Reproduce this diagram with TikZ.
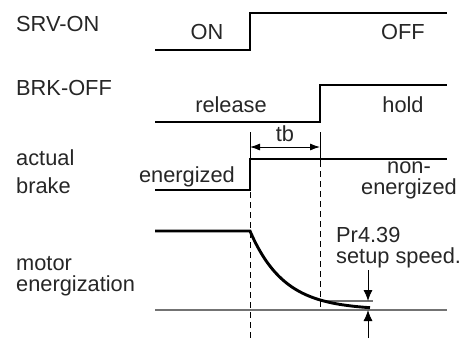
\documentclass[tikz,border=0pt]{standalone}
\usepackage{fontspec}
\setmainfont{Liberation Sans}
\usetikzlibrary{arrows.meta}
\begin{document}
\begin{tikzpicture}[x=1pt,y=-1pt,
  font=\fontsize{21.8}{25}\selectfont,
  txt/.style={inner sep=0pt, text=black!85},
  lbl/.style={txt, anchor=base west},
  ctr/.style={txt, anchor=base},
  sig/.style={line width=2.9pt, line join=miter},
  tick/.style={line width=0.9pt},
  guide/.style={line width=0.9pt, dash pattern=on 6pt off 4pt},
  ref/.style={line width=1.4pt, black!55},
  tip/.style={-{Latex[length=11pt,width=9pt]}, line width=0.9pt}]
\useasboundingbox (0,0) rectangle (466,338);

% labels on the left (anchor = baseline of the last line)
\node[lbl] (srv) at (16,31) {SRV-ON};
\node[lbl] (brk) at (16,95) {BRK-OFF};
\node[lbl, align=left, font=\fontsize{21.8}{27.5}\selectfont] (act) at (16,193) {actual\\brake};
\node[lbl, align=left, font=\fontsize{21.8}{20.5}\selectfont] (mot) at (16,291) {motor\\energization};

% signal texts
\node[ctr] (on) at (207,39) {ON};
\node[ctr] (off) at (403,39) {OFF};
\node[ctr] (rel) at (231,112) {release};
\node[ctr] (hold) at (403,112) {hold};
\node[ctr] (en) at (187,182) {energized};
\node[ctr, align=center, font=\fontsize{21.8}{21}\selectfont] (non) at (409,194) {non-\\energized};
\node[ctr] (tb) at (285,141) {tb};
\node[lbl, align=left, font=\fontsize{21.8}{20.5}\selectfont] (pr) at (336,263) {Pr4.39\\setup speed.};

% reference lines (motor)
\draw[ref] (155,310) -- (447,310);
\draw[ref] (320,301) -- (373,301);

% dashed guides
\draw[guide] (250,192) -- (250,338);
\draw[guide] (320,161) -- (320,310);
\draw[tick] (250,132) -- (250,159);
\draw[tick] (320,132) -- (320,161);

% tb dimension
\coordinate (tbL) at (250,147);
\coordinate (tbR) at (320,147);
\draw[tick, {Latex[length=10pt,width=7pt]}-{Latex[length=10pt,width=7pt]}] (tbL) -- (tbR);

% signals
\draw[sig] (155,50) -- (250,50) -- (250,13) -- (447,13);
\draw[sig] (155,122) -- (320,122) -- (320,85) -- (447,85);
\draw[sig] (155,190) -- (250,190) -- (250,159) -- (447,159);
\draw[sig] (155,231) -- (250,231)
  -- plot[domain=250:370, samples=60, smooth] (\x, {310-79*exp(-(\x-250)/34)});

% speed threshold arrows
\coordinate (a1s) at (368,270);
\coordinate (a1e) at (368,301);
\coordinate (a2s) at (368,338);
\coordinate (a2e) at (368,310);
\draw[tip] (a1s) -- (a1e);
\draw[tip] (a2s) -- (a2e);
\end{tikzpicture}
\end{document}
